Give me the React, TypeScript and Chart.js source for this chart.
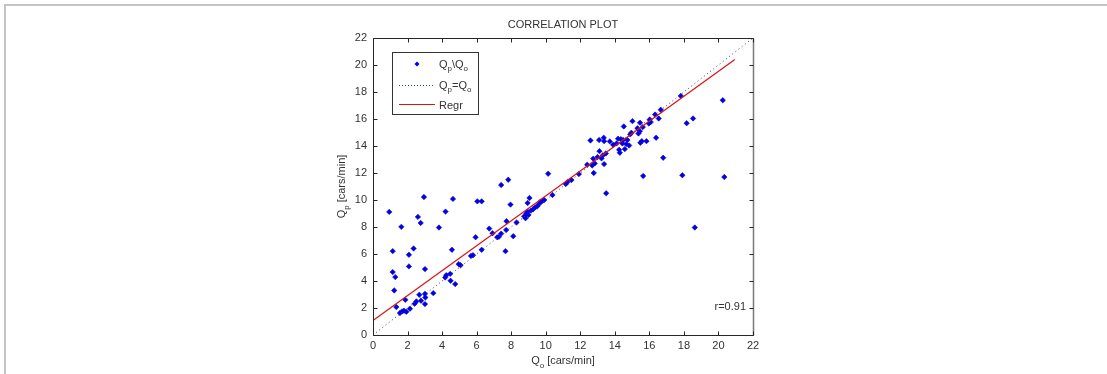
import React, { useEffect, useRef } from "react";
import { Chart, registerables } from "chart.js";

Chart.register(...registerables);

// ---- data ----
const qo = [
  0.94, 1.14, 1.14, 1.29, 1.23, 1.35, 1.64, 1.56, 1.68, 1.8, 1.93, 1.87, 2.08, 2.08, 2.14, 2.35, 2.41, 2.51, 2.6, 2.76,
  2.68, 2.78, 2.95, 3.01, 3.01, 3.03, 3.01, 3.49, 3.82, 4.2, 4.18, 4.24, 4.47, 4.49, 4.57, 4.63, 4.76, 4.96, 5.07, 5.67,
  5.79, 5.94, 6.04, 6.29, 6.29, 6.73, 6.92, 7.19, 7.29, 7.42, 7.42, 7.67, 7.71, 7.73, 7.83, 7.96, 8.12, 8.31, 8.75, 8.83,
  8.89, 8.95, 9.0, 8.95, 9.06, 9.14, 9.27, 9.39, 9.51, 9.62, 9.7, 9.81, 9.91, 10.14, 10.39, 11.16, 11.26, 11.49, 11.92, 12.4,
  12.59, 12.69, 12.75, 12.78, 12.84, 13.0, 13.09, 13.11, 13.23, 13.3, 13.38, 13.36, 13.38, 13.48, 13.5, 13.71, 13.9, 14.1, 14.19, 14.25,
  14.29, 14.35, 14.44, 14.52, 14.48, 14.58, 14.66, 14.73, 14.83, 14.89, 14.96, 15.02, 15.31, 15.37, 15.45, 15.46, 15.48, 15.56, 15.62, 15.64,
  15.83, 15.97, 16.02, 16.08, 16.33, 16.39, 16.54, 16.66, 16.8, 17.82, 17.91, 18.16, 18.53, 18.63, 20.25, 20.34,
];
const qp = [
  9.12, 6.21, 4.66, 4.29, 3.3, 2.07, 8.01, 1.63, 1.75, 1.8, 1.72, 2.61, 5.94, 5.08, 1.95, 6.41, 2.32, 2.49, 8.75, 8.3,
  2.98, 2.54, 10.22, 4.88, 3.05, 2.78, 2.29, 3.1, 7.96, 9.14, 4.26, 4.43, 4.53, 4.02, 6.31, 10.08, 3.77, 5.25, 5.17, 5.86,
  5.91, 7.24, 9.9, 9.9, 6.31, 7.88, 7.54, 7.24, 7.27, 11.11, 7.51, 6.21, 7.78, 8.43, 11.5, 9.66, 7.32, 8.33, 8.8, 8.65,
  9.02, 9.14, 8.89, 9.78, 10.15, 9.21, 9.31, 9.46, 9.53, 9.71, 9.88, 9.93, 10.0, 11.95, 10.37, 11.18, 11.33, 11.48, 11.92, 12.61,
  14.41, 12.56, 13.06, 12.0, 12.71, 13.18, 14.44, 13.62, 13.08, 13.3, 12.66, 14.61, 14.36, 13.45, 10.5, 14.34, 14.09, 14.19, 14.54, 13.72,
  13.5, 14.51, 14.19, 15.45, 14.44, 13.77, 14.14, 14.44, 14.04, 14.86, 14.98, 15.84, 15.32, 14.93, 15.1, 15.72, 14.24, 14.36, 15.4, 11.78,
  14.36, 15.67, 15.96, 15.77, 16.33, 14.61, 16.04, 16.68, 13.13, 17.71, 11.83, 15.69, 16.04, 7.96, 17.39, 11.7,
];
const regrX = [0, 20.95];
const regrY = [1.08, 20.4];
const identX = [0, 22];
const identY = [0, 22];
const axisMin = 0;
const axisMax = 22;
const axisStep = 2;
const tickValues = [0, 2, 4, 6, 8, 10, 12, 14, 16, 18, 20, 22];

const TITLE = "CORRELATION PLOT";
const R_LABEL = "r=0.91";
const X_TITLE: [string, boolean][] = [["Q", false], ["o", true], [" [cars/min]", false]];
const Y_TITLE: [string, boolean][] = [["Q", false], ["p", true], [" [cars/min]", false]];
const LEG1: [string, boolean][] = [["Q", false], ["p", true], ["\\Q", false], ["o", true]];
const LEG2: [string, boolean][] = [["Q", false], ["p", true], ["=Q", false], ["o", true]];
const LEG3: [string, boolean][] = [["Regr", false]];

const FONT = "'Liberation Sans', Arial, Helvetica, sans-serif";
const TEXT = "#333333";
const BLUE = "#0000e0";
const RED = "#dd1010";
const DOT = "#2a3f9a";

function drawRich(ctx: CanvasRenderingContext2D, parts: [string, boolean][], x: number, y: number, align: "left" | "center" | "right") {
  const main = `11px ${FONT}`;
  const sub = `8px ${FONT}`;
  let total = 0;
  const widths = parts.map(([t, s]) => {
    ctx.font = s ? sub : main;
    const w = ctx.measureText(t).width;
    total += w;
    return w;
  });
  let cx = align === "left" ? x : align === "center" ? x - total / 2 : x - total;
  ctx.textAlign = "left";
  ctx.textBaseline = "alphabetic";
  parts.forEach(([t, s], i) => {
    ctx.font = s ? sub : main;
    ctx.fillText(t, cx, s ? y + 3.5 : y);
    cx += widths[i];
  });
}

const overlay = {
  id: "overlay",
  beforeDraw(chart: any) {
    const ctx = chart.ctx as CanvasRenderingContext2D;
    ctx.save();
    ctx.fillStyle = "#ffffff";
    ctx.fillRect(0, 0, chart.width, chart.height);
    ctx.fillStyle = "#c4c4c4";
    ctx.fillRect(4, 4, chart.width - 4, 2);
    ctx.fillRect(4, 4, 2, chart.height - 4);
    ctx.restore();
  },
  afterDraw(chart: any) {
    const ctx = chart.ctx as CanvasRenderingContext2D;
    const a = chart.chartArea;
    const xs = chart.scales.x;
    const ys = chart.scales.y;
    const L = Math.round(a.left) + 0.5;
    const R = Math.round(a.right) + 0.5;
    const T = Math.round(a.top) + 0.5;
    const B = Math.round(a.bottom) + 0.5;
    ctx.save();
    // axis box
    ctx.lineWidth = 1;
    ctx.strokeStyle = "#262626";
    ctx.beginPath();
    ctx.moveTo(R, T);
    ctx.lineTo(L, T);
    ctx.lineTo(L, B);
    ctx.lineTo(R, B);
    ctx.stroke();
    ctx.strokeStyle = "#7a7a7a";
    ctx.lineWidth = 1.5;
    ctx.beginPath();
    ctx.moveTo(R, T);
    ctx.lineTo(R, B);
    ctx.stroke();
    // inward ticks
    ctx.lineWidth = 1;
    ctx.strokeStyle = "#262626";
    ctx.beginPath();
    tickValues.forEach((v) => {
      const px = Math.round(xs.getPixelForValue(v)) + 0.5;
      ctx.moveTo(px, B);
      ctx.lineTo(px, B - 4);
      ctx.moveTo(px, T);
      ctx.lineTo(px, T + 4);
      const py = Math.round(ys.getPixelForValue(v)) + 0.5;
      ctx.moveTo(L, py);
      ctx.lineTo(L + 4, py);
      ctx.moveTo(R, py);
      ctx.lineTo(R - 4, py);
    });
    ctx.stroke();

    ctx.fillStyle = TEXT;
    // title
    ctx.font = `11px ${FONT}`;
    ctx.textAlign = "center";
    ctx.textBaseline = "alphabetic";
    ctx.fillText(TITLE, (a.left + a.right) / 2, 28);
    // x title
    drawRich(ctx, X_TITLE, (a.left + a.right) / 2, 364, "center");
    // y title
    ctx.save();
    ctx.translate(a.left - 28, (a.top + a.bottom) / 2);
    ctx.rotate(-Math.PI / 2);
    drawRich(ctx, Y_TITLE, 0, 0, "center");
    ctx.restore();
    // r label
    ctx.font = `11px ${FONT}`;
    ctx.textAlign = "right";
    ctx.fillText(R_LABEL, a.right - 7, a.bottom - 25.5);

    // legend
    const lx = a.left + 19.5;
    const ly = a.top + 14.5;
    ctx.fillStyle = "#ffffff";
    ctx.fillRect(lx, ly, 86, 62);
    ctx.strokeStyle = "#333333";
    ctx.lineWidth = 1;
    ctx.strokeRect(lx, ly, 86, 62);
    // marker
    ctx.fillStyle = BLUE;
    ctx.beginPath();
    const mx = a.left + 44, my = a.top + 26;
    ctx.moveTo(mx, my - 2.5);
    ctx.lineTo(mx + 2.5, my);
    ctx.lineTo(mx, my + 2.5);
    ctx.lineTo(mx - 2.5, my);
    ctx.closePath();
    ctx.fill();
    // dotted
    ctx.strokeStyle = DOT;
    ctx.setLineDash([1, 2]);
    ctx.beginPath();
    ctx.moveTo(a.left + 26, a.top + 47.5);
    ctx.lineTo(a.left + 62, a.top + 47.5);
    ctx.stroke();
    ctx.setLineDash([]);
    ctx.strokeStyle = RED;
    ctx.lineWidth = 1.2;
    ctx.beginPath();
    ctx.moveTo(a.left + 26, a.top + 66.5);
    ctx.lineTo(a.left + 62, a.top + 66.5);
    ctx.stroke();
    ctx.fillStyle = TEXT;
    drawRich(ctx, LEG1, a.left + 66, a.top + 29.5, "left");
    drawRich(ctx, LEG2, a.left + 66, a.top + 50.5, "left");
    drawRich(ctx, LEG3, a.left + 66, a.top + 71, "left");
    ctx.restore();
  },
};

export default function App() {
  const ref = useRef<HTMLCanvasElement | null>(null);
  useEffect(() => {
    if (!ref.current) return;
    const tickFont = { family: FONT, size: 11 };
    const chart = new Chart(ref.current, {
      type: "scatter",
      data: {
        datasets: [
          {
            label: "Regr",
            data: regrX.map((x, i) => ({ x, y: regrY[i] })),
            showLine: true,
            borderColor: RED,
            borderWidth: 1.2,
            pointRadius: 0,
            order: 0,
          },
          {
            label: "Qp=Qo",
            data: identX.map((x, i) => ({ x, y: identY[i] })),
            showLine: true,
            borderColor: DOT,
            borderWidth: 1,
            borderDash: [1, 3],
            pointRadius: 0,
            order: 1,
          },
          {
            label: "Qp\\Qo",
            data: qo.map((x, i) => ({ x, y: qp[i] })),
            pointStyle: "rectRot",
            pointRadius: 2.7,
            backgroundColor: BLUE,
            borderColor: BLUE,
            borderWidth: 0.6,
            order: 2,
          },
        ],
      },
      options: {
        responsive: false,
        animation: false,
        events: [],
        layout: { padding: { left: 333, right: 354, top: 38, bottom: 9 } },
        plugins: { legend: { display: false }, tooltip: { enabled: false }, title: { display: false } },
        scales: {
          x: {
            type: "linear",
            min: axisMin,
            max: axisMax,
            grid: { display: false, drawTicks: false },
            border: { display: false },
            ticks: { stepSize: axisStep, font: tickFont, color: TEXT, padding: 4, maxRotation: 0, autoSkip: false },
            afterFit: (s: any) => {
              s.height = 30;
            },
          },
          y: {
            type: "linear",
            min: axisMin,
            max: axisMax,
            grid: { display: false, drawTicks: false },
            border: { display: false },
            ticks: { stepSize: axisStep, font: tickFont, color: TEXT, padding: 6, autoSkip: false },
            afterFit: (s: any) => {
              s.width = 40;
            },
          },
        },
      },
      plugins: [overlay],
    } as any);
    return () => chart.destroy();
  }, []);
  return (
    <div style={{ position: "absolute", left: 0, top: 0, width: 1107, height: 374 }}>
      <canvas ref={ref} width={1107} height={374} style={{ display: "block", width: 1107, height: 374 }} />
    </div>
  );
}
